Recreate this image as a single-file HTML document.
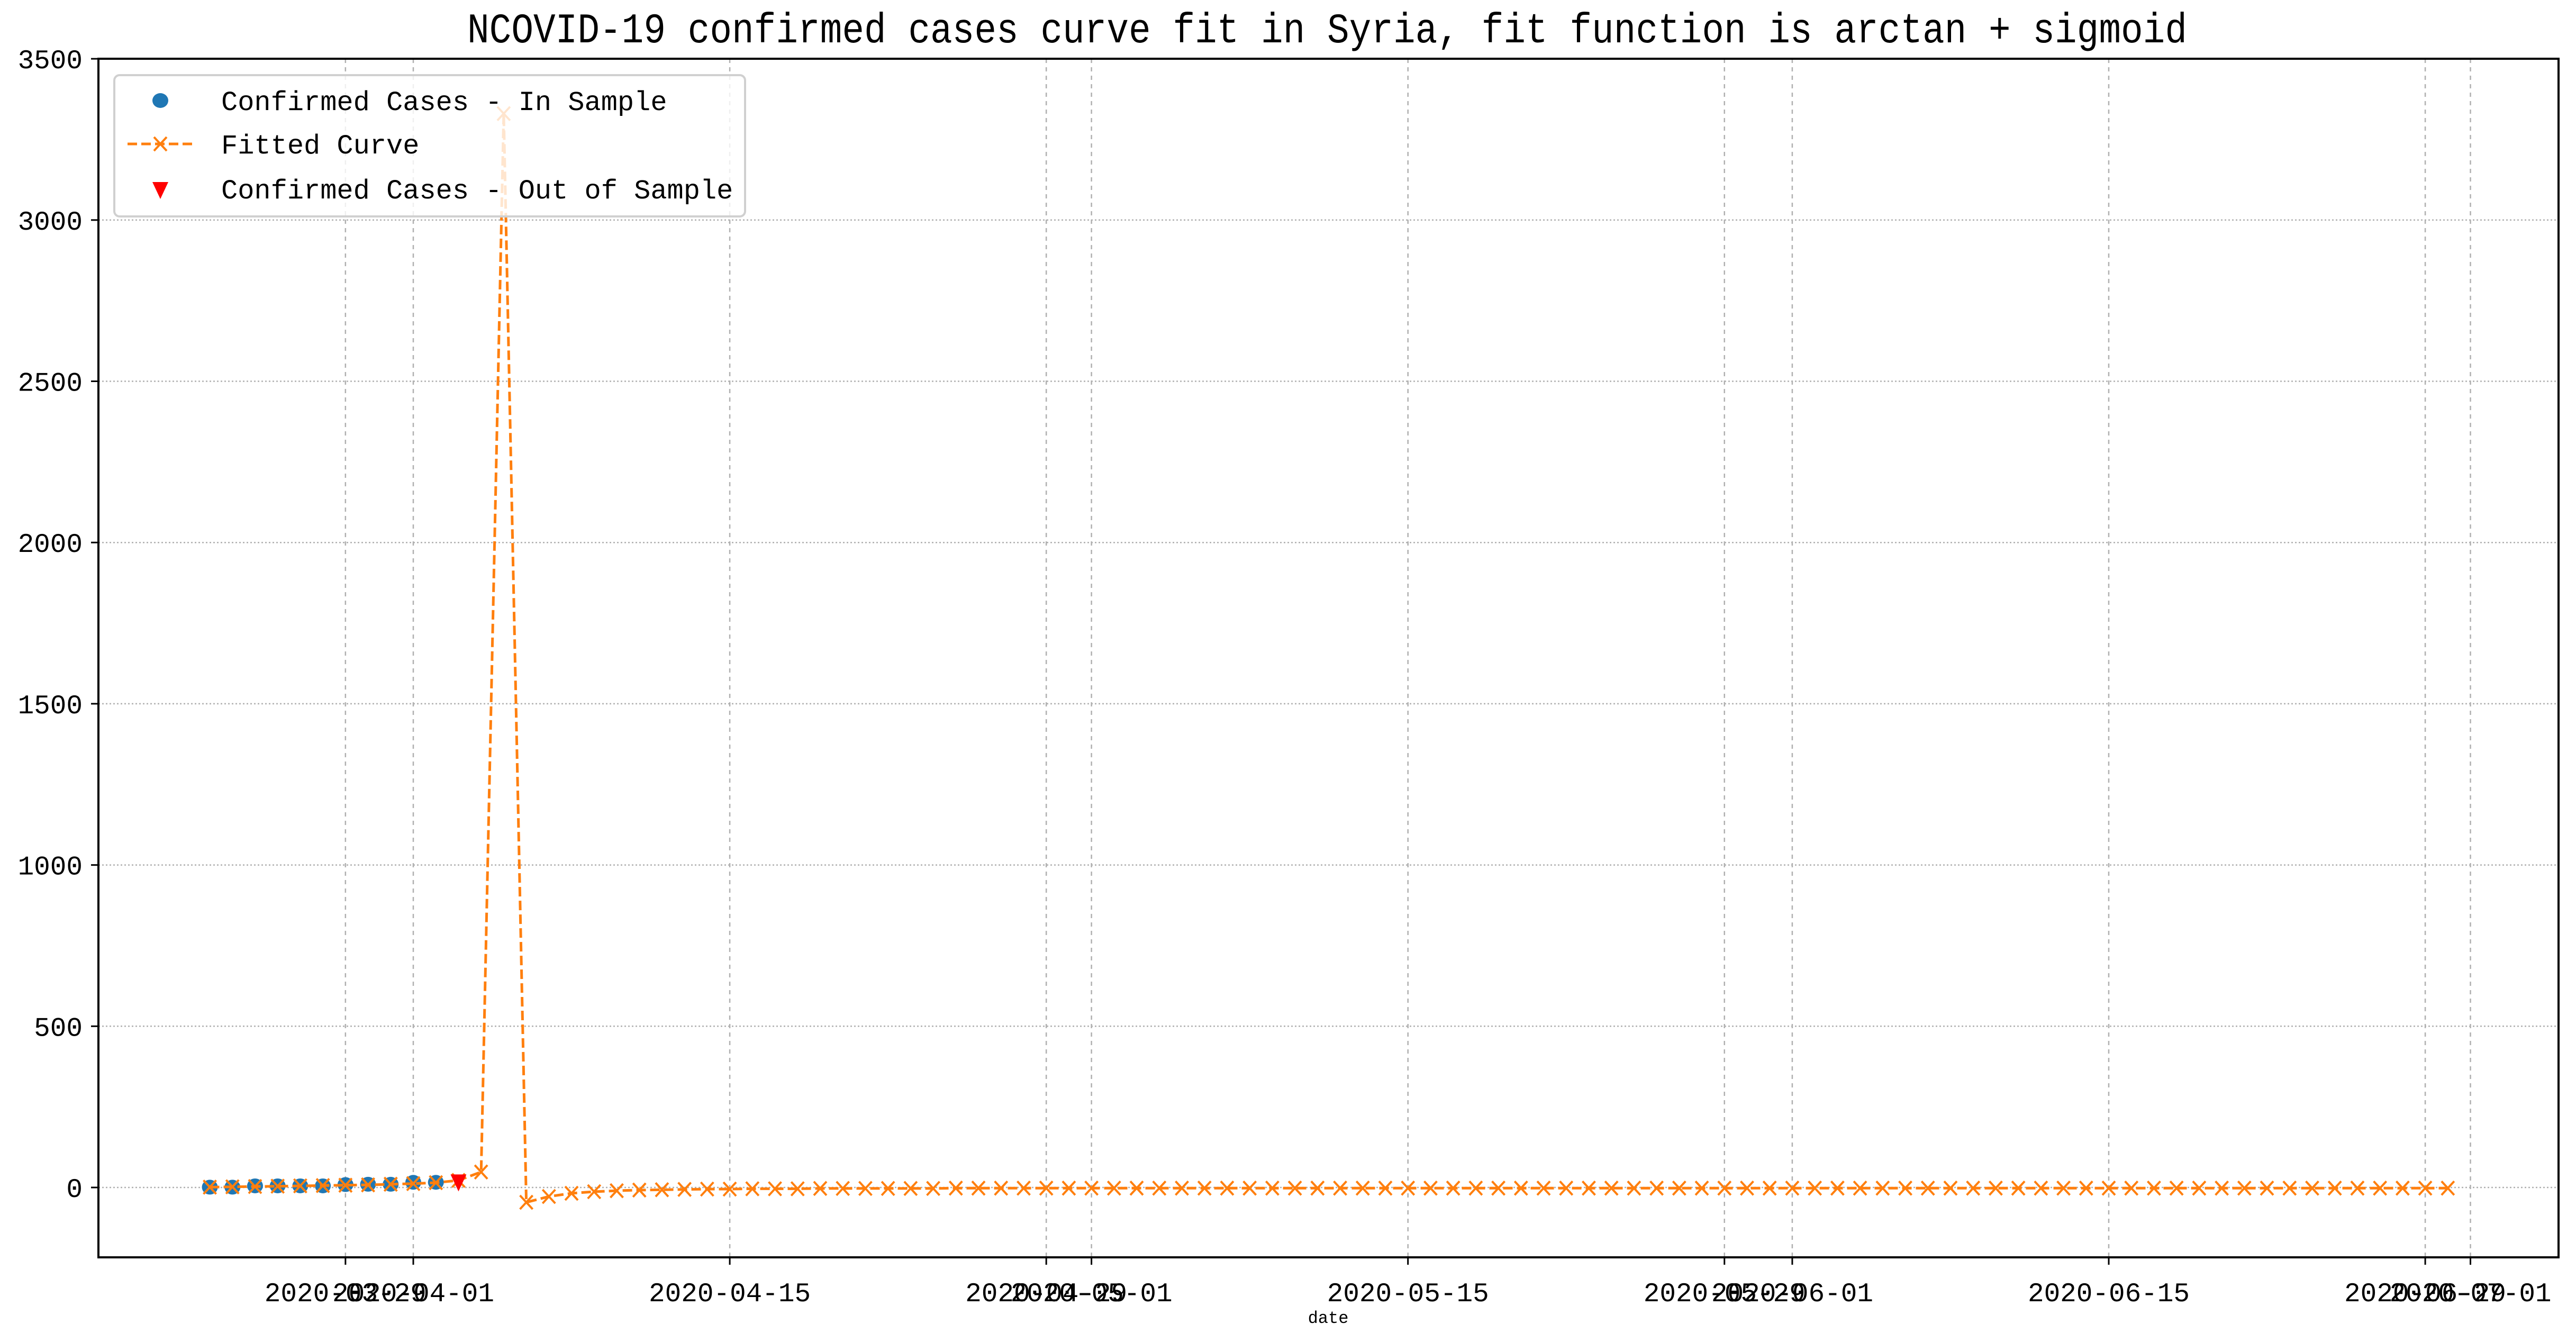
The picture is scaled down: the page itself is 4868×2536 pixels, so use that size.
<!DOCTYPE html>
<html><head><meta charset="utf-8"><style>html,body{margin:0;padding:0;background:#fff}svg{display:block}</style></head>
<body>
<svg id="chart" width="4868" height="2536" viewBox="0 0 4868 2536" xmlns="http://www.w3.org/2000/svg" font-family="'Liberation Mono', 'WenQuanYi Zen Hei', monospace">
<rect width="4868" height="2536" fill="#fff"/>
<text x="2508" y="80" font-size="80" text-anchor="middle" textLength="3250" lengthAdjust="spacingAndGlyphs">NCOVID-19 confirmed cases curve fit in Syria, fit function is arctan + sigmoid</text>
<g id="grid"></g>
<g id="series"></g>
<g id="axes"></g>
<g id="legend"></g>
</svg>
<script>
const inSampleDates = ["2020-03-23","2020-03-24","2020-03-25","2020-03-26","2020-03-27","2020-03-28","2020-03-29","2020-03-30","2020-03-31","2020-04-01","2020-04-02"];
const inSampleValues = [1,1,5,5,5,5,9,10,10,16,16];
const outSampleDates = ["2020-04-03"];
const outSampleValues = [19];
const fitStart = "2020-03-23";
const fitValues = [1,2,3,4,5,6,7,8,10,12,15,22,48,3330,-46,-28,-18,-13,-10,-8,-7,-6,-5,-5,-4,-4,-4,-3,-3,-3,-3,-3,-3,-2,-2,-2,-2,-2,-2,-2,-2,-2,-2,-2,-2,-2,-2,-2,-2,-2,-2,-2,-2,-2,-2,-2,-2,-2,-2,-2,-2,-2,-2,-2,-2,-2,-2,-2,-2,-2,-2,-2,-2,-2,-2,-2,-2,-2,-2,-2,-2,-2,-2,-2,-2,-2,-2,-2,-2,-2,-2,-2,-2,-2,-2,-2,-2,-2,-2,-2];
const yTicks = [0,500,1000,1500,2000,2500,3000,3500];
const xTickLabels = ["2020-03-29","2020-04-01","2020-04-15","2020-04-29","2020-05-01","2020-05-15","2020-05-29","2020-06-01","2020-06-15","2020-06-29","2020-07-01"];

const NS="http://www.w3.org/2000/svg";
const L=186,R=4835,T=111,B=2376;
const REF=Date.UTC(2020,3,1);
function dayOf(s){const p=s.split('-');return (Date.UTC(+p[0],+p[1]-1,+p[2])-REF)/86400000;}
function xs(d){return 781+42.72*d;}
function ys(v){return 2244-0.6094*v;}
function mk(tag,attrs,parent){const e=document.createElementNS(NS,tag);for(const k in attrs)e.setAttribute(k,attrs[k]);parent.appendChild(e);return e;}
const grid=document.getElementById('grid'),series=document.getElementById('series'),axes=document.getElementById('axes'),legend=document.getElementById('legend');

yTicks.forEach(v=>{const y=ys(v);
 const g=mk('line',{x1:L,x2:R,y1:y,y2:y,stroke:'#b0b0b0','stroke-width':2.5,'stroke-dasharray':'3,4'},grid);
 
 
 mk('line',{x1:L-14,x2:L,y1:y,y2:y,stroke:'#000','stroke-width':3},axes);
 const t=mk('text',{x:L-30,y:y+18,'font-size':51,'text-anchor':'end'},axes);t.textContent=v;
 
 
});
xTickLabels.forEach(s=>{const x=xs(dayOf(s));
 const g=mk('line',{x1:x,x2:x,y1:T,y2:B,stroke:'#b0b0b0','stroke-width':2.5,'stroke-dasharray':'8,8'},grid);
 
 
 mk('line',{x1:x,x2:x,y1:B,y2:B+14,stroke:'#000','stroke-width':3},axes);
 const t=mk('text',{x:x,y:B+83,'font-size':51,'text-anchor':'middle'},axes);t.textContent=s;
 
 
});
const frame=mk('rect',{x:L,y:T,width:R-L,height:B-T,fill:'none',stroke:'#000','stroke-width':4},axes);


const xl=mk('text',{x:2510,y:2500,'font-size':32,'text-anchor':'middle'},axes);xl.textContent='date';



// in-sample dots
inSampleDates.forEach((s,i)=>{const c=mk('ellipse',{cx:xs(dayOf(s)),cy:ys(inSampleValues[i]),rx:15,ry:14,fill:'#1f77b4'},series);
 
 
});
// fitted line
const d0=dayOf(fitStart);
const pts=fitValues.map((v,i)=>xs(d0+i).toFixed(1)+','+ys(v).toFixed(1)).join(' ');
const pl=mk('polyline',{points:pts,fill:'none',stroke:'#ff7f0e','stroke-width':5,'stroke-dasharray':'18,8'},series);


fitValues.forEach((v,i)=>{const x=xs(d0+i),y=ys(v);
 const p=mk('path',{d:`M${x-12},${y-13}L${x+12},${y+13}M${x-12},${y+13}L${x+12},${y-13}`,stroke:'#ff7f0e','stroke-width':4,fill:'none'},series);
 
 
});
outSampleDates.forEach((s,i)=>{const x=xs(dayOf(s)),y=ys(outSampleValues[i]);
 const p=mk('path',{d:`M${x-15},${y-13}L${x+15},${y-13}L${x},${y+19}Z`,fill:'#ff0000'},series);
 
 
});

// legend
const lb=mk('rect',{x:216,y:142,width:1192,height:267,rx:10,fill:'rgba(255,255,255,0.8)',stroke:'#d0d0d0','stroke-width':4},legend);


const entries=[['Confirmed Cases - In Sample',190],['Fitted Curve',272],['Confirmed Cases - Out of Sample',357]];
entries.forEach((e,i)=>{const y=e[1],x=303;
 if(i===0){const m=mk('ellipse',{cx:x,cy:y,rx:15,ry:14,fill:'#1f77b4'},legend);}
 if(i===1){mk('line',{x1:241,x2:365,y1:y,y2:y,stroke:'#ff7f0e','stroke-width':5,'stroke-dasharray':'18,8'},legend);
  const m=mk('path',{d:`M${x-12},${y-13}L${x+12},${y+13}M${x-12},${y+13}L${x+12},${y-13}`,stroke:'#ff7f0e','stroke-width':4},legend);}
 if(i===2){const m=mk('path',{d:`M${x-15},${y-13}L${x+15},${y-13}L${x},${y+19}Z`,fill:'#ff0000'},legend);}
 const t=mk('text',{x:418,y:y+18,'font-size':52},legend);t.textContent=e[0];
 
 
});
</script>
</body></html>
